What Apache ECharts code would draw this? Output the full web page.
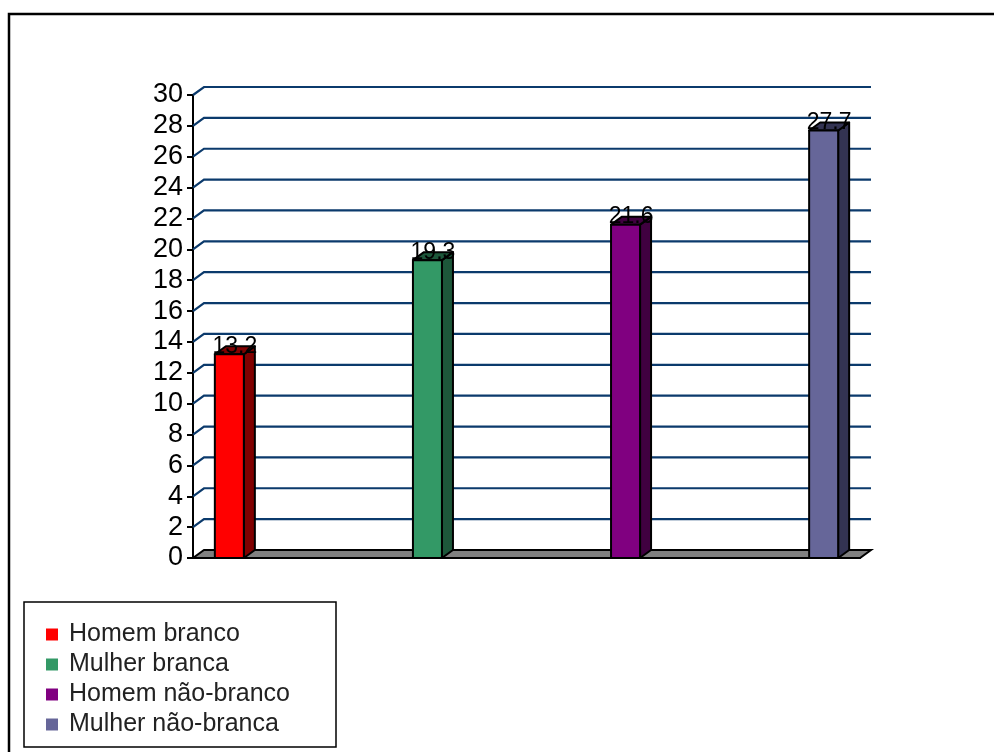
<!DOCTYPE html>
<html lang="pt">

<head>
    <meta charset="UTF-8">
    <title>Grupos</title>
    <script src="https://cdn.jsdelivr.net/npm/echarts@6/dist/echarts.min.js"></script>
    <style>
        html, body { margin: 0; padding: 0; background: #fff; }
        #main { width: 994px; height: 752px; }
    </style>
</head>

<body>
    <div id="main"></div>
    <script>
        // dados
        var categories = ['Homem branco', 'Mulher branca', 'Homem não-branco', 'Mulher não-branca'];
        var values = [13.2, 19.3, 21.6, 27.7];
        var frontColors = ['#FF0000', '#339966', '#800080', '#666699'];
        var sideColors = ['#800000', '#1D573A', '#400040', '#333352'];
        var yMin = 0, yMax = 30, yStep = 2;
        var slots = ['', '', '', ''];

        var FONT = 'Arial, "Liberation Sans", sans-serif';
        var DX = 11, DY = 8;

        var gridValues = [];
        for (var v = yMin; v <= yMax; v += yStep) gridValues.push(v);

        var chart = echarts.init(document.getElementById('main'));

        function wallRender(params, api) {
            var cs = params.coordSys;
            var val = api.value(0);
            var y = api.coord([0, val])[1];
            if (val === 0) {
                return {
                    type: 'polygon',
                    shape: { points: [[cs.x, y], [cs.x + cs.width, y], [cs.x + cs.width + DX, y - DY], [cs.x + DX, y - DY]] },
                    style: { fill: '#808080', stroke: '#000', lineWidth: 2 }
                };
            }
            return {
                type: 'polyline',
                shape: { points: [[cs.x, y], [cs.x + DX, y - DY], [cs.x + cs.width + DX, y - DY]] },
                style: { fill: null, stroke: '#0b3a6c', lineWidth: 2.2 }
            };
        }

        function barRender(idx) {
            return function (params, api) {
                var c = api.coord([0, api.value(1)]);
                var y0 = api.coord([0, 0])[1];
                var catW = api.size([1, 0])[0];
                var bw = catW * 0.0435;
                var cx = c[0] + (idx - 1.5) * catW * 0.297;
                var x1 = cx - bw / 2, x2 = cx + bw / 2, yt = c[1];
                return {
                    type: 'group',
                    children: [{
                        type: 'polygon',
                        shape: { points: [[x2, yt], [x2 + DX, yt - DY], [x2 + DX, y0 - DY], [x2, y0]] },
                        style: { fill: sideColors[idx], stroke: '#000', lineWidth: 2, lineJoin: 'round' }
                    }, {
                        type: 'polygon',
                        shape: { points: [[x1, yt], [x1 + DX, yt - DY], [x2 + DX, yt - DY], [x2, yt]] },
                        style: { fill: sideColors[idx], stroke: '#000', lineWidth: 2, lineJoin: 'round' }
                    }, {
                        type: 'rect',
                        shape: { x: x1, y: yt, width: bw, height: y0 - yt },
                        style: { fill: frontColors[idx], stroke: '#000', lineWidth: 2 }
                    }, {
                        type: 'text',
                        style: {
                            text: String(api.value(1)),
                            x: cx + DX / 2,
                            y: yt + 4,
                            textAlign: 'center',
                            textVerticalAlign: 'bottom',
                            font: '23px ' + FONT,
                            fill: '#000'
                        }
                    }]
                };
            };
        }

        var series = [{
            type: 'custom',
            name: 'grade',
            xAxisIndex: 0,
            yAxisIndex: 0,
            renderItem: wallRender,
            data: gridValues.map(function (g) { return [g]; }),
            encode: { y: 0 },
            silent: true,
            z: 1
        }];
        categories.forEach(function (name, i) {
            series.push({
                type: 'custom',
                name: name,
                xAxisIndex: 0,
                yAxisIndex: 0,
                itemStyle: { color: frontColors[i] },
                renderItem: barRender(i),
                data: [[0, values[i]]],
                encode: { x: 0, y: 1 },
                z: 5
            });
        });

        chart.setOption({
            animation: false,
            graphic: [{
                type: 'rect',
                shape: { x: 9, y: 14, width: 1000, height: 800 },
                style: { fill: null, stroke: '#000', lineWidth: 2.5 },
                z: 0
            }, {
                type: 'rect',
                shape: { x: 24, y: 602, width: 312, height: 145 },
                style: { fill: '#fff', stroke: '#000', lineWidth: 1.5 },
                z: 0
            }],
            legend: {
                data: categories,
                orient: 'vertical',
                left: 41,
                top: 617,
                icon: 'rect',
                itemWidth: 12,
                itemHeight: 12,
                itemGap: 5,
                selectedMode: false,
                textStyle: { fontSize: 25, color: '#222', fontFamily: FONT, padding: [0, 0, 0, 6] },
                z: 10
            },
            grid: {
                left: 193,
                top: 95,
                width: 667,
                height: 463
            },
            xAxis: [{
                type: 'category',
                data: [''],
                show: false
            }, {
                type: 'category',
                data: slots,
                position: 'bottom',
                axisLine: { lineStyle: { color: '#000', width: 2 } },
                axisTick: { length: 8, lineStyle: { color: '#000', width: 2 } },
                axisLabel: { show: false },
                z: 6
            }],
            yAxis: {
                type: 'value',
                min: yMin,
                max: yMax,
                interval: yStep,
                axisLine: { show: true, lineStyle: { color: '#000', width: 2 } },
                axisTick: { show: true, length: 6, lineStyle: { color: '#000', width: 2 } },
                axisLabel: { fontSize: 27, color: '#000', fontFamily: FONT, margin: 10 },
                splitLine: { show: false }
            },
            series: series
        });
    </script>
</body>

</html>
